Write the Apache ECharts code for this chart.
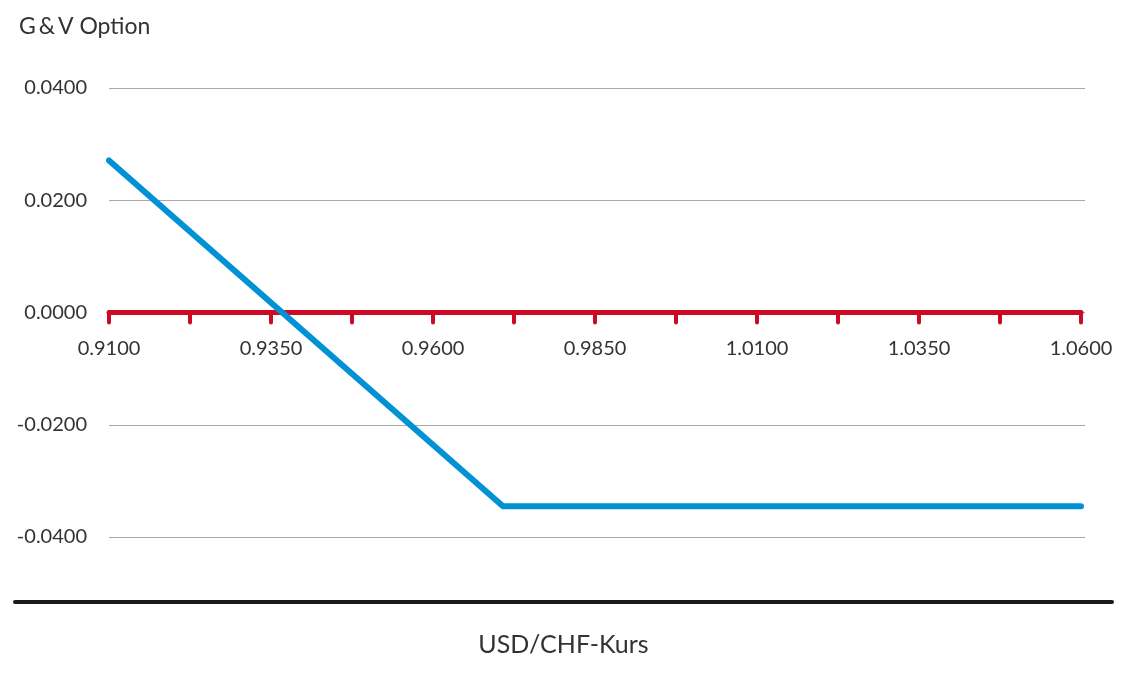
<!DOCTYPE html>
<html>
<head>
<meta charset="utf-8">
<script src="https://cdn.jsdelivr.net/npm/echarts@6/dist/echarts.min.js"></script>
<style>
html,body{margin:0;padding:0;background:#fff;}
#chart{width:1140px;height:700px;}
</style>
</head>
<body>
<div id="chart"></div>
<script>
// Data
const rateValues = [0.9100, 0.9708, 1.0600];      // USD/CHF rate
const pnlValues  = [0.0271, -0.0345, -0.0345];     // G&V Option
const xTickValues = [0.9100, 0.9225, 0.9350, 0.9475, 0.9600, 0.9725, 0.9850, 0.9975, 1.0100, 1.0225, 1.0350, 1.0475, 1.0600];
const xLabelValues = [0.9100, 0.9350, 0.9600, 0.9850, 1.0100, 1.0350, 1.0600];
const yMin = -0.04, yMax = 0.04, yStep = 0.02;

const FONT = 'Lato, "Noto Sans", sans-serif';
const TEXT = '#333333';
const RED = '#cc0a26';
const BLUE = '#0092d4';

const seriesData = rateValues.map((x, i) => [x, pnlValues[i]]);

// grid geometry (layout only)
const G = { left: 109, right: 59, top: 88, bottom: 163 };
const plotH = 700 - G.top - G.bottom;
const zeroOffset = -plotH * (0 - yMin) / (yMax - yMin); // move x axis up to y = 0

const chart = echarts.init(document.getElementById('chart'));
chart.setOption({
  backgroundColor: '#ffffff',
  animation: false,
  title: {
    text: 'G\u2009&\u2009V Option',
    left: 14, top: 10,
    textStyle: { fontFamily: FONT, fontSize: 23, fontWeight: 'normal', color: TEXT }
  },
  grid: [
    { left: G.left, right: G.right, top: G.top, bottom: G.bottom },   // data + red x axis
    { left: 109, right: 55, top: G.top, bottom: G.bottom },            // y gridlines + labels
    { left: 15, right: 28, top: 500, bottom: 98 }                      // black base rule + axis name
  ],
  xAxis: [
    {
      gridIndex: 0, type: 'value', min: 0.91, max: 1.06,
      position: 'bottom', offset: zeroOffset,
      axisLine: { onZero: false, lineStyle: { color: RED, width: 5, cap: 'round' } },
      axisTick: { show: true, inside: false, length: 10, customValues: xTickValues,
                  lineStyle: { color: RED, width: 4, cap: 'round' } },
      axisLabel: { customValues: xLabelValues, margin: 26,
                   formatter: v => v.toFixed(4),
                   fontFamily: FONT, fontSize: 20, color: TEXT },
      splitLine: { show: false }
    },
    { gridIndex: 1, type: 'value', min: 0, max: 1, show: false },
    {
      gridIndex: 2, type: 'value', min: 0, max: 1,
      axisLine: { show: true, onZero: false, lineStyle: { color: '#1a1a1a', width: 4 } },
      axisTick: { show: false }, axisLabel: { show: false }, splitLine: { show: false },
      name: 'USD/CHF-Kurs', nameLocation: 'middle', nameGap: 30,
      nameTextStyle: { fontFamily: FONT, fontSize: 25, color: TEXT }
    }
  ],
  yAxis: [
    { gridIndex: 0, type: 'value', min: yMin, max: yMax, interval: yStep, show: false },
    {
      gridIndex: 1, type: 'value', min: yMin, max: yMax, interval: yStep,
      axisLine: { show: false }, axisTick: { show: false },
      axisLabel: { margin: 22, formatter: v => v.toFixed(4),
                   fontFamily: FONT, fontSize: 20, color: TEXT },
      splitLine: { show: true, lineStyle: { color: '#a8a8a8', width: 1 } }
    },
    { gridIndex: 2, type: 'value', min: 0, max: 1, show: false }
  ],
  series: [
    {
      type: 'line', xAxisIndex: 0, yAxisIndex: 0,
      data: seriesData, symbol: 'none', z: 5,
      lineStyle: { color: BLUE, width: 6, cap: 'round', join: 'round' }
    }
  ]
});
</script>
</body>
</html>
